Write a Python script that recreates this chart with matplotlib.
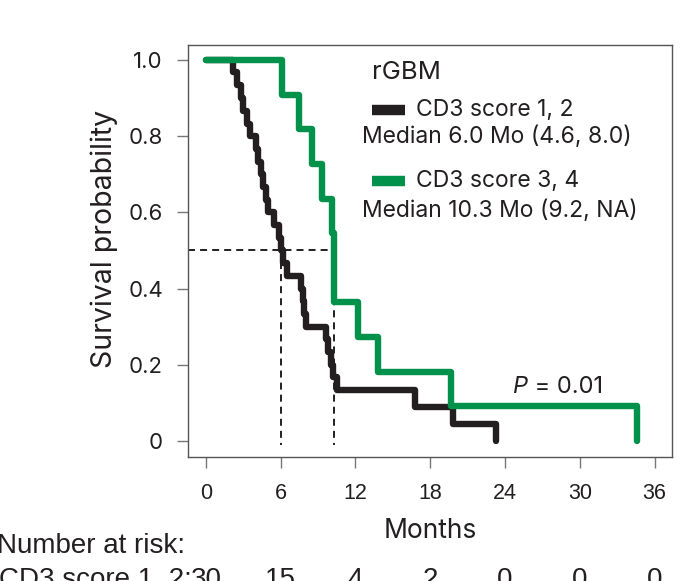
import matplotlib
matplotlib.use("Agg")
import matplotlib.pyplot as plt

plt.rcParams['font.family'] = ['Inter', 'DejaVu Sans']
narrow = ['Liberation Sans', 'DejaVu Sans']

# Kaplan-Meier steps (time in months, survival)
low_times = [0, 2.2, 2.5, 2.8, 3.0, 3.3, 3.5, 4.0, 4.2, 4.4, 4.6, 4.8, 5.0, 5.5, 5.9,
             6.0, 6.2, 6.5, 7.6, 7.8, 7.9, 8.0, 9.6, 9.8, 10.0, 10.2, 10.5, 16.8, 19.8, 23.3]
low_surv = [1.0, 0.967, 0.933, 0.9, 0.867, 0.833, 0.8, 0.767, 0.733, 0.7, 0.667, 0.633,
            0.6, 0.567, 0.533, 0.5, 0.467, 0.433, 0.4, 0.367, 0.333, 0.3, 0.267, 0.233,
            0.2, 0.167, 0.133, 0.089, 0.044, 0.0]

high_times = [0, 6.1, 7.5, 8.5, 9.3, 10.1, 10.3, 12.2, 13.8, 19.7, 34.6]
high_surv = [1.0, 0.909, 0.818, 0.727, 0.636, 0.545, 0.364, 0.273, 0.182, 0.091, 0.0]

medians = [6.0, 10.3]

x_ticks = [0, 6, 12, 18, 24, 30, 36]
y_ticks = [0, 0.2, 0.4, 0.6, 0.8, 1.0]
y_labels = ['0', '0.2', '0.4', '0.6', '0.8', '1.0']
risk_low = [30, 15, 4, 2, 0, 0, 0]

black = '#231f20'
green = '#00924a'
txt = '#231f20'

fig = plt.figure(figsize=(6.99, 5.81), dpi=100)
ax = fig.add_axes([188 / 699, 1 - 457 / 581, 484 / 699, 412 / 581])

# median guide lines
dash = (0, (3.6, 2.6))
ax.plot([-1.44, medians[1]], [0.5, 0.5], color=black, lw=1.4, ls=dash, zorder=1)
for m in medians:
    ax.plot([m, m], [0.5, -0.01], color=black, lw=1.4, ls=dash, zorder=1)

ax.step(low_times, low_surv, where='post', color=black, lw=4.6,
        solid_capstyle='round', zorder=2)
ax.step(high_times, high_surv, where='post', color=green, lw=4.6,
        solid_capstyle='round', zorder=3)

ax.set_xlim(-1.44, 37.4)
ax.set_ylim(-0.042, 1.039)
ax.set_xticks(x_ticks)
ax.set_yticks(y_ticks)
ax.set_yticklabels(y_labels)
ax.tick_params(length=8, width=1, color='#777777', labelcolor=txt)
ax.tick_params(axis='x', pad=11, labelsize=15.5)
ax.tick_params(axis='y', pad=10, labelsize=16)
for lab in ax.get_xticklabels():
    lab.set_family(narrow)
for s in ax.spines.values():
    s.set_color('#555555')
    s.set_linewidth(1.0)

ax.set_xlabel('Months', fontsize=19, color=txt, labelpad=10)
ax.set_ylabel('Survival probability', fontsize=20.5, color=txt)
ax.yaxis.set_label_coords(-0.145, 0.53)

# legend drawn by hand
ax.text(0.380, 0.934, 'rGBM', transform=ax.transAxes, fontsize=18.5, color=txt,
        va='center', ha='left')
ax.plot([0.380, 0.448], [0.842, 0.842], transform=ax.transAxes, color=black,
        lw=7.5, solid_capstyle='butt')
ax.text(0.471, 0.842, 'CD3 score 1, 2', transform=ax.transAxes, fontsize=16.5,
        color=txt, va='center', ha='left')
ax.text(0.3595, 0.777, 'Median 6.0 Mo (4.6, 8.0)', transform=ax.transAxes,
        fontsize=16.5, color=txt, va='center', ha='left')
ax.plot([0.380, 0.448], [0.670, 0.670], transform=ax.transAxes, color=green,
        lw=7.5, solid_capstyle='butt')
ax.text(0.471, 0.670, 'CD3 score 3, 4', transform=ax.transAxes, fontsize=16.5,
        color=txt, va='center', ha='left')
ax.text(0.3595, 0.597, 'Median 10.3 Mo (9.2, NA)', transform=ax.transAxes,
        fontsize=16.5, color=txt, va='center', ha='left')

p_txt = ax.text(0.671, 0.170, 'P', transform=ax.transAxes, fontsize=17, color=txt,
                va='center', ha='left', style='italic')
ax.annotate(' = 0.01', xy=(1, 0.5), xycoords=p_txt, fontsize=17, color=txt,
            va='center', ha='left')

# number at risk table
fig.text(-3 / 699, 1 - 553 / 581, 'Number at risk:', fontsize=20, color=txt,
         ha='left', va='baseline', family=narrow)
fig.text(-1 / 699, 1 - 587 / 581, 'CD3 score 1, 2:', fontsize=20, color=txt,
         ha='left', va='baseline', family=narrow)
for xt, n in zip(x_ticks, risk_low):
    xf = ax.transData.transform((xt, 0))[0] / fig.bbox.width
    fig.text(xf, 1 - 587 / 581, str(n), fontsize=20, color=txt,
             ha='center', va='baseline', family=narrow)

fig.savefig('out.png', dpi=100)
